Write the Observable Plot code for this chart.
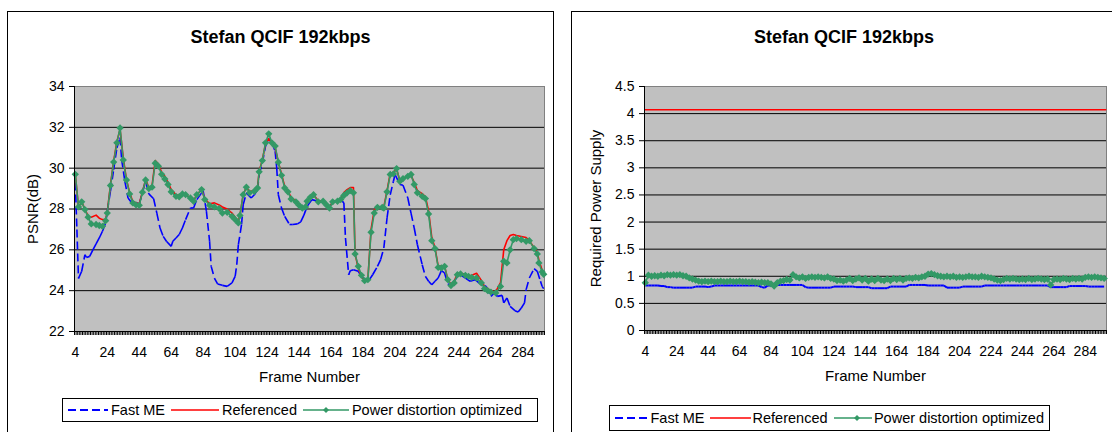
<!DOCTYPE html>
<html><head><meta charset="utf-8">
<script src="https://cdn.jsdelivr.net/npm/d3@7"></script>
<script src="https://cdn.jsdelivr.net/npm/@observablehq/plot@0.6"></script>
<style>
body{margin:0;background:#fff;font-family:"Liberation Sans",Arial,sans-serif;}
#page{position:relative;width:1112px;height:432px;overflow:hidden;background:#fff;}
.panel{position:absolute;border:1px solid #000;box-sizing:border-box;}
.title{position:absolute;font-weight:bold;font-size:18px;text-align:center;line-height:20px;}
.legend{position:absolute;border:1px solid #000;display:flex;align-items:center;font-size:14.5px;box-sizing:border-box;background:#fff;padding-left:4px;white-space:nowrap;}
.legend svg{display:block;margin-right:2px;}
.legend span{margin-right:5px;}
.chart{position:absolute;top:0;}
</style></head><body><div id="page"></div>
<script>
// ---------- DATA ----------
const chartTitle = "Stefan QCIF 192kbps";
const seriesNames = ["Fast ME", "Referenced", "Power distortion optimized"];
const xTickLabels = [4,24,44,64,84,104,124,144,164,184,204,224,244,264,284];
const psnrTicks = [22,24,26,28,30,32,34];
const powerTicks = [0,0.5,1,1.5,2,2.5,3,3.5,4,4.5];

// Left chart: PSNR (dB)
const psnrFastFrames = [
4,5,6,8,10,11,13,15,17,19,
21,23,24,26,28,30,32,33,35,37,
39,42,44,46,48,50,53,55,57,59,
61,64,65,67,69,71,73,76,78,80,
83,84,86,88,89,91,93,96,99,102,
104,105,106,108,109,111,112,114,116,118,
119,121,123,125,127,129,130,131,133,135,
138,140,143,145,147,149,152,156,160,163,
166,170,172,173,175,176,178,181,183,185,
188,190,193,195,197,199,201,203,204,207,
209,212,214,216,218,221,223,225,227,229,
231,233,235,237,239,241,243,245,248,251,
254,258,261,264,266,268,271,272,274,276,
279,281,283,285,286,288,291,293,295,296,
297];
const psnrFast = [
29.3,27.0,24.6,24.95,25.76,25.63,25.68,26.0,26.29,26.58,
26.91,27.32,27.89,28.87,29.93,30.99,31.5,30.42,29.36,28.54,
28.33,28.3,28.25,28.79,29.36,28.74,28.5,27.8,27.07,26.66,
26.42,26.17,26.42,26.58,26.75,27.07,27.48,28.05,28.05,28.46,
28.79,28.87,27.9,26.42,25.19,24.62,24.33,24.26,24.21,24.38,
24.7,25.27,26.25,27.24,28.2,28.79,28.7,28.54,28.7,28.95,
29.69,30.26,31.08,31.45,31.24,30.83,30.01,28.7,28.05,27.64,
27.24,27.24,27.27,27.37,27.7,28.13,28.46,28.38,28.3,28.13,
28.38,28.46,28.3,26.58,24.78,24.98,25.03,24.95,24.7,24.54,
24.54,24.78,25.19,25.52,26.09,27.56,28.7,29.36,29.69,29.2,
29.16,28.54,27.8,27.07,26.25,25.27,24.7,24.46,24.29,24.46,
24.62,24.98,24.87,24.33,24.29,24.46,24.7,24.78,24.62,24.46,
24.54,24.29,24.21,23.72,23.89,23.72,23.77,23.4,23.64,23.23,
23.02,22.95,23.15,23.4,24.05,24.62,25.08,24.95,24.46,24.21,
24.1];

const psnrFrames = [
4,6,8,10,12,14,17,19,21,23,
24,26,28,30,32,34,36,38,40,42,
44,46,48,50,52,54,56,58,60,62,
64,67,69,71,73,76,78,80,83,85,
88,91,94,96,99,102,104,106,107,109,
111,113,116,118,119,121,123,125,127,129,
131,133,135,137,139,142,144,146,148,149,
151,153,156,159,161,163,165,168,170,172,
174,176,178,179,181,183,185,187,189,191,
193,196,197,199,201,203,205,207,209,212,
214,216,218,221,223,225,227,229,231,233,
235,237,239,241,243,245,248,250,252,255,
258,260,262,264,267,270,272,274,276,278,
280,283,286,288,291,293,294,296,297];
const psnrReferenced = [
29.7,28.1,28.35,28.0,27.65,27.6,27.7,27.55,27.48,27.5,
27.85,29.2,30.35,31.3,31.9,30.5,29.45,28.8,28.35,28.3,
28.25,28.85,29.45,29.05,29.15,30.37,30.2,29.8,29.6,29.3,
28.95,28.7,28.65,28.74,28.7,28.55,28.4,28.7,28.95,28.5,
28.25,28.3,28.2,28.1,28.0,27.8,27.6,27.4,27.7,28.7,
29.07,28.85,28.9,29.05,29.85,30.4,31.2,31.45,31.2,31.0,
30.3,29.7,29.1,28.9,28.55,28.4,28.2,28.05,28.1,28.4,
28.6,28.7,28.4,28.4,28.25,28.1,28.35,28.4,28.5,28.8,
28.95,29.05,29.05,25.8,25.1,24.7,24.5,24.55,27.0,27.95,
28.1,28.1,28.1,28.9,29.75,29.8,29.95,29.4,29.5,29.6,
29.65,29.3,28.9,28.75,28.6,27.9,26.6,26.1,25.2,25.2,
25.2,24.55,24.3,24.45,24.85,24.85,24.8,24.7,24.75,24.85,
24.5,24.2,24.1,24.0,23.95,24.4,26.0,26.45,26.7,26.75,
26.7,26.65,26.6,26.45,26.1,25.85,25.5,25.0,24.85];
const psnrOptimized = [
29.7,28.1,28.35,27.97,27.6,27.27,27.24,27.19,27.15,27.43,
27.8,29.15,30.3,31.24,31.97,30.4,29.42,28.74,28.3,28.2,
28.18,28.82,29.42,29.0,29.07,30.24,30.1,29.7,29.47,29.2,
28.84,28.62,28.6,28.74,28.7,28.54,28.38,28.7,28.95,28.46,
28.18,28.1,28.02,27.8,27.84,27.64,27.48,27.32,27.68,28.7,
29.07,28.79,28.87,29.03,29.82,30.37,31.24,31.68,31.24,31.08,
30.29,29.65,29.03,28.84,28.49,28.35,28.18,28.05,28.1,28.38,
28.57,28.7,28.35,28.38,28.21,28.05,28.35,28.38,28.46,28.66,
28.79,28.9,28.79,25.8,25.19,24.75,24.49,24.54,26.86,27.8,
28.08,28.08,28.05,28.84,29.69,29.72,29.98,29.36,29.49,29.6,
29.69,29.2,28.79,28.62,28.51,27.76,26.45,26.06,25.14,25.11,
25.19,24.54,24.25,24.38,24.78,24.82,24.75,24.7,24.65,24.62,
24.38,24.1,24.0,23.93,23.89,24.21,25.44,25.36,26.0,26.5,
26.55,26.5,26.42,26.45,26.06,25.8,25.36,24.92,24.8];

// Right chart: Required Power Supply
const powerFrames = [
4,6,8,10,12,14,16,18,20,22,
24,26,28,30,32,34,36,38,40,42,
44,46,48,50,52,54,56,58,60,62,
64,66,68,70,72,74,76,78,80,82,
84,86,88,90,92,94,96,98,100,102,
104,106,108,110,112,114,116,118,120,122,
124,126,128,130,132,134,136,138,140,142,
144,146,148,150,152,154,156,158,160,162,
164,166,168,170,172,174,176,178,180,182,
184,186,188,190,192,194,196,198,200,202,
204,206,208,210,212,214,216,218,220,222,
224,226,228,230,232,234,236,238,240,242,
244,246,248,250,252,254,256,258,260,262,
264,266,268,270,272,274,276,278,280,282,
284,286,288,290,292,294,296];
const powerFast = [
0.83,0.83,0.83,0.83,0.83,0.82,0.82,0.80,0.80,0.79,
0.79,0.79,0.79,0.79,0.79,0.79,0.81,0.81,0.81,0.81,
0.80,0.81,0.83,0.83,0.83,0.83,0.83,0.83,0.83,0.83,
0.83,0.83,0.83,0.83,0.83,0.83,0.83,0.80,0.79,0.83,
0.83,0.81,0.84,0.84,0.84,0.84,0.84,0.84,0.84,0.84,
0.84,0.80,0.79,0.79,0.79,0.79,0.79,0.79,0.79,0.79,
0.81,0.81,0.81,0.81,0.81,0.81,0.81,0.80,0.80,0.80,
0.80,0.80,0.78,0.78,0.78,0.78,0.78,0.78,0.81,0.81,
0.81,0.81,0.81,0.81,0.84,0.84,0.84,0.84,0.84,0.84,
0.83,0.83,0.83,0.83,0.83,0.83,0.79,0.79,0.79,0.79,
0.79,0.81,0.81,0.81,0.81,0.81,0.81,0.81,0.83,0.83,
0.83,0.83,0.83,0.83,0.83,0.83,0.83,0.83,0.83,0.83,
0.83,0.83,0.83,0.83,0.83,0.83,0.83,0.83,0.83,0.80,
0.80,0.80,0.80,0.80,0.80,0.82,0.82,0.82,0.82,0.82,
0.82,0.81,0.81,0.81,0.81,0.81,0.81];
const powerRefFrames = [4,297];
const powerReferenced = [4.07,4.07];
const powerOptimized = [
0.88,1.02,1.00,1.01,1.00,1.02,1.01,1.03,1.02,1.03,
1.02,1.03,1.01,1.00,0.97,0.95,0.93,0.91,0.90,0.91,
0.90,0.91,0.90,0.90,0.91,0.90,0.90,0.91,0.90,0.90,
0.91,0.90,0.90,0.89,0.90,0.89,0.88,0.89,0.88,0.88,
0.86,0.82,0.88,0.91,0.92,0.94,0.93,1.03,0.99,0.97,
0.99,0.96,0.98,0.99,0.98,0.99,0.98,0.97,0.99,0.96,
0.95,0.92,0.93,0.91,0.93,0.96,0.92,0.95,0.97,0.93,
0.96,0.91,0.95,0.92,0.96,0.93,0.92,0.95,0.92,0.96,
0.94,0.96,0.93,0.96,0.97,0.96,0.98,0.97,0.99,1.00,
1.04,1.05,1.03,1.01,1.00,0.99,1.00,0.99,1.00,0.98,
0.99,0.98,0.99,1.00,0.99,0.99,0.98,1.00,0.99,0.98,
0.97,0.95,0.93,0.92,0.94,0.96,0.95,0.96,0.95,0.94,
0.95,0.94,0.96,0.94,0.95,0.96,0.95,0.94,0.95,0.84,
0.94,0.95,0.94,0.96,0.95,0.94,0.96,0.95,0.96,0.95,
0.98,0.99,0.98,0.99,0.98,0.97,0.96];

// ---------- STYLE ----------
const C_FAST = "#0000FF", C_REF = "#FF0000", C_OPT = "#339966";
const FONT = "'Liberation Sans', Arial, sans-serif";
const xDomain = [3.5, 297.5];

const rows = (f, v) => f.map((d, i) => ({frame: d, value: v[i]}));
const segs = (f, v) => f.slice(1).map((d, i) => ({x1: f[i], y1: v[i], x2: d, y2: v[i + 1]}));
const catBounds = d3.range(xDomain[0], xDomain[1] + 0.5, 1);

function makeChart({width, ml, mr, mt, mb, yDomain, yTicks, grid, yLabel, yLabelOffset, fast, fastWidth, ref, opt}) {
  return Plot.plot({
    width, height: 432,
    marginLeft: ml, marginRight: mr, marginTop: mt, marginBottom: mb,
    x: {domain: xDomain},
    y: {domain: yDomain},
    style: {fontFamily: FONT, fontSize: "14px", color: "#000", background: "transparent", overflow: "visible"},
    marks: [
      Plot.frame({fill: "#C0C0C0", stroke: "#808080"}),
      Plot.ruleY(grid, {stroke: "#000", strokeWidth: 1}),
      Plot.link(segs(fast.f, fast.v), {x1: "x1", y1: "y1", x2: "x2", y2: "y2", stroke: C_FAST, strokeWidth: fastWidth, strokeDasharray: "8,4"}),
      Plot.line(rows(ref.f, ref.v), {x: "frame", y: "value", stroke: C_REF, strokeWidth: 1.6}),
      Plot.line(rows(opt.f, opt.v), {x: "frame", y: "value", stroke: C_OPT, strokeWidth: 1.6}),
      Plot.dot(rows(opt.f, opt.v), {x: "frame", y: "value", symbol: "diamond2", r: 3.3, fill: C_OPT, stroke: "none"}),
      Plot.ruleX([xDomain[0]], {stroke: "#000", strokeWidth: 1}),
      Plot.ruleY([yDomain[0]], {stroke: "#000", strokeWidth: 1}),
      Plot.axisY({ticks: yTicks, tickSize: 5, tickPadding: 5, tickFormat: d => String(d), fontSize: 14, label: null}),
      Plot.axisY({ticks: [], tickSize: 0, label: yLabel, labelAnchor: "center", labelArrow: false, labelOffset: yLabelOffset, fontSize: 15}),
      Plot.axisX({ticks: catBounds, tickSize: 4, tickFormat: () => "", label: null}),
      Plot.axisX({ticks: xTickLabels, tickSize: 0, tickPadding: 16, fontSize: 14, label: null}),
      Plot.axisX({ticks: [], tickSize: 0, label: "Frame Number", labelAnchor: "center", labelArrow: false, labelOffset: 50, fontSize: 15})
    ]
  });
}

const page = document.getElementById("page");
function addDiv(cls, css, html) {
  const d = document.createElement("div");
  d.className = cls; d.style.cssText = css; if (html) d.innerHTML = html;
  page.appendChild(d); return d;
}

// panels
addDiv("panel", "left:7px;top:11px;width:547px;height:440px;");
addDiv("panel", "left:571px;top:11px;width:546px;height:440px;");

// charts
const left = makeChart({
  width: 560, ml: 74, mr: 16, mt: 86, mb: 101,
  yDomain: [22, 34], yTicks: psnrTicks, grid: [24, 26, 28, 30, 32],
  yLabel: "PSNR(dB)", yLabelOffset: 47,
  fast: {f: psnrFastFrames, v: psnrFast}, fastWidth: 1.6,
  ref: {f: psnrFrames, v: psnrReferenced},
  opt: {f: psnrFrames, v: psnrOptimized}
});
left.classList.add("chart"); left.style.left = "0px";
page.appendChild(left);

const right = makeChart({
  width: 552, ml: 84, mr: 6, mt: 86, mb: 102,
  yDomain: [0, 4.5], yTicks: powerTicks, grid: [0.5, 1, 1.5, 2, 2.5, 3, 3.5, 4],
  yLabel: "Required Power Supply", yLabelOffset: 54,
  fast: {f: powerFrames, v: powerFast}, fastWidth: 2,
  ref: {f: powerRefFrames, v: powerReferenced},
  opt: {f: powerFrames, v: powerOptimized}
});
right.classList.add("chart"); right.style.left = "560px";
page.appendChild(right);

// titles
addDiv("title", "left:7px;top:27px;width:547px;", chartTitle);
addDiv("title", "left:571px;top:27px;width:546px;", chartTitle);

// legends
function legendHTML() {
  const samples = [
    `<svg width="42" height="10"><line x1="1" x2="41" y1="5" y2="5" stroke="${C_FAST}" stroke-width="2" stroke-dasharray="8,4"/></svg>`,
    `<svg width="50" height="10"><line x1="1" x2="49" y1="5" y2="5" stroke="${C_REF}" stroke-width="1.5"/></svg>`,
    `<svg width="48" height="10"><line x1="1" x2="47" y1="5" y2="5" stroke="${C_OPT}" stroke-width="1.5"/><path d="M24,2 L27,5 L24,8 L21,5 Z" fill="${C_OPT}"/></svg>`
  ];
  return seriesNames.map((n, i) => samples[i] + `<span>${n}</span>`).join("");
}
addDiv("legend", "left:62px;top:398px;width:476px;height:24px;", legendHTML());
addDiv("legend", "left:609px;top:405px;width:441px;height:26px;", legendHTML());
</script>
</body></html>
